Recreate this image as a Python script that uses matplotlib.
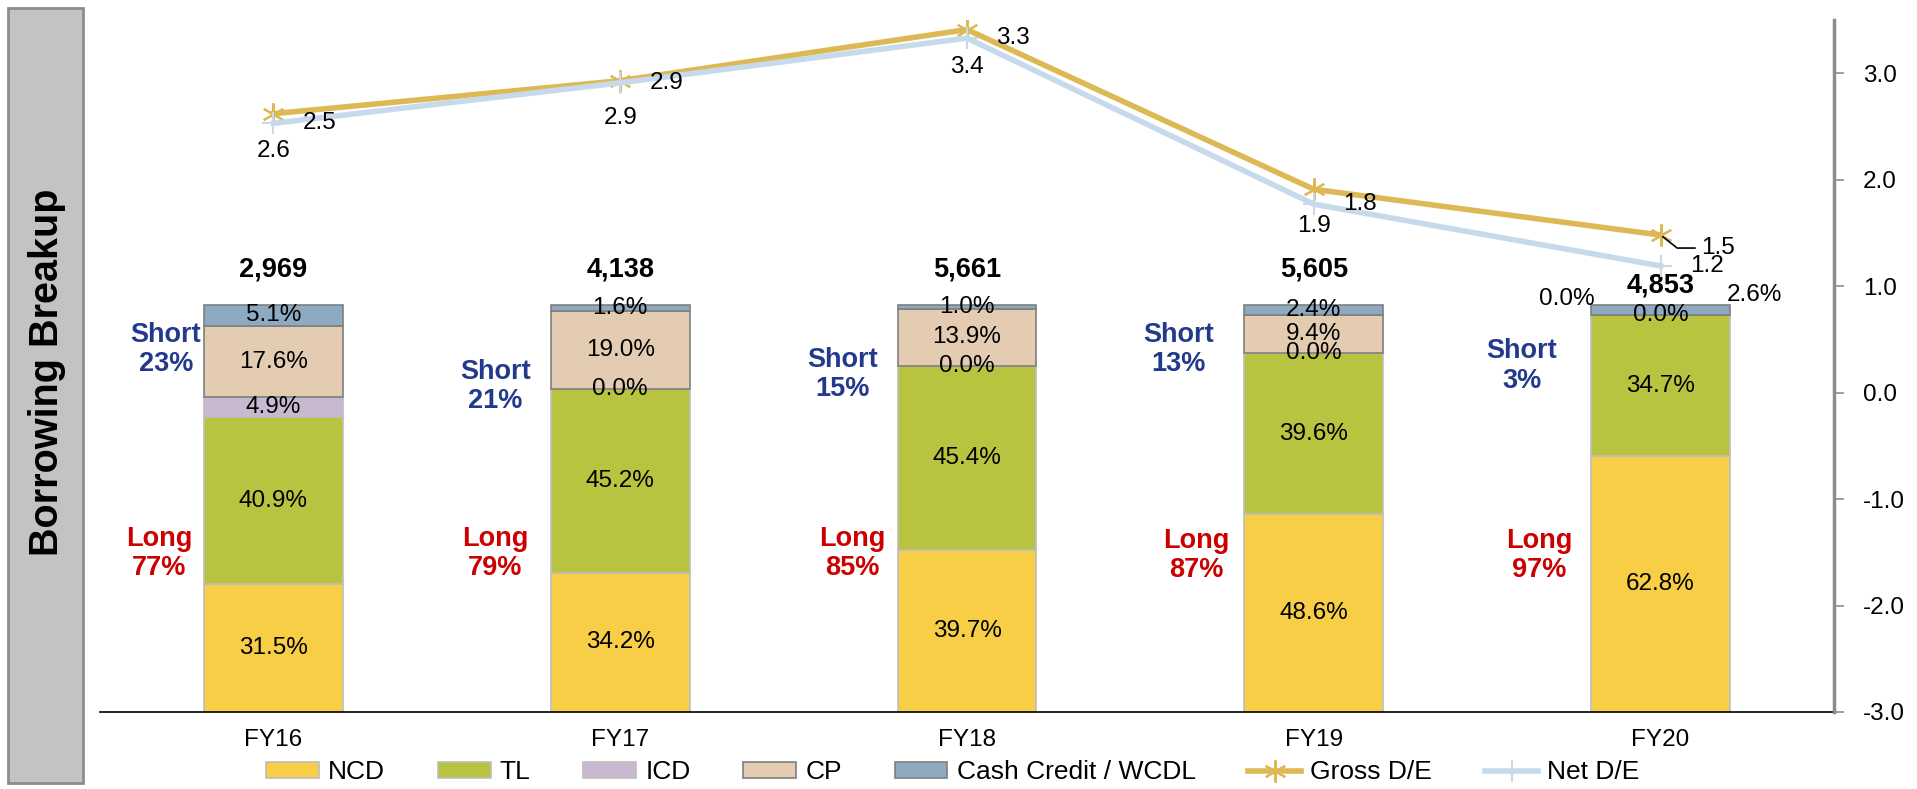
import numpy as np
import matplotlib
matplotlib.use("Agg")
import matplotlib.pyplot as plt
from matplotlib.patches import Rectangle

plt.rcParams["font.family"] = ["Liberation Sans", "DejaVu Sans"]
plt.rcParams["axes.unicode_minus"] = False

years = ["FY16", "FY17", "FY18", "FY19", "FY20"]
ncd = [31.5, 34.2, 39.7, 48.6, 62.8]
tl = [40.9, 45.2, 45.4, 39.6, 34.7]
icd = [4.9, 0.0, 0.0, 0.0, 0.0]
cp = [17.6, 19.0, 13.9, 9.4, 0.0]
cc = [5.1, 1.6, 1.0, 2.4, 2.6]
totals = ["2,969", "4,138", "5,661", "5,605", "4,853"]
gross_de = [2.62, 2.93, 3.41, 1.91, 1.48]
net_de = [2.53, 2.91, 3.33, 1.77, 1.19]
short_pct = [23, 21, 15, 13, 3]
long_pct = [77, 79, 85, 87, 97]

series = [
    ("NCD", ncd, "#F7CE46", "#BDBDBD"),
    ("TL", tl, "#B8C43F", "#BDBDBD"),
    ("ICD", icd, "#C8B9D1", "#BDBDBD"),
    ("CP", cp, "#E3CCB1", "#7F7F7F"),
    ("Cash Credit / WCDL", cc, "#8EAAC1", "#7F7F7F"),
]

# label tweaks (text positions only)
short_dx = [-0.31, -0.36, -0.36, -0.39, -0.40]
short_y = [89, 80, 83, 89, 85]
long_dx = [-0.33, -0.36, -0.33, -0.34, -0.35]
long_y = [39, 39, 39, 38.5, 38.5]
total_off = [35, 35, 35, 35, 19]
moved = {(4, "ICD"): (-0.27, 101.5), (4, "Cash Credit / WCDL"): (0.27, 102.5)}

fs = 17.5
fig = plt.figure(figsize=(19.17, 7.89), dpi=100)

# grey side box with title
fig.patches.append(Rectangle((8 / 1917, 6 / 789), 75 / 1917, 775 / 789,
                             transform=fig.transFigure, facecolor="#C3C3C3",
                             edgecolor="#8C8C8C", linewidth=2))
fig.text(47 / 1917, 1 - 372 / 789, "Borrowing Breakup", rotation=90, ha="center", va="center",
         fontsize=28.5, fontweight="bold")

ax = fig.add_axes([100 / 1917, 77 / 789, 1734 / 1917, 692 / 789])
x = np.arange(len(years))
width = 0.4
bottom = np.zeros(len(years))
for name, vals, color, ec in series:
    vals = np.array(vals)
    ax.bar(x, vals, width, bottom=bottom, color=color, edgecolor=ec, linewidth=1.2, label=name)
    for i, v in enumerate(vals):
        lx, ly = x[i], bottom[i] + v / 2
        if (i, name) in moved:
            dx, ly = moved[(i, name)]
            lx = x[i] + dx
        ax.text(lx, ly, f"{v:.1f}%", ha="center", va="center", fontsize=fs)
    bottom += vals

for i in range(len(years)):
    ax.annotate(totals[i], (x[i], bottom[i]), xytext=(0, total_off[i]), textcoords="offset pixels",
                ha="center", va="center", fontsize=19.5, fontweight="bold")
    ax.text(x[i] + short_dx[i], short_y[i], f"Short\n{short_pct[i]}%", ha="center", va="center",
            fontsize=19.5, fontweight="bold", color="#233A8C", linespacing=1.15)
    ax.text(x[i] + long_dx[i], long_y[i], f"Long\n{long_pct[i]}%", ha="center", va="center",
            fontsize=19.5, fontweight="bold", color="#CC0000", linespacing=1.15)

ax.set_xlim(-0.5, 4.5)
ax.set_ylim(0, 170)
ax.set_xticks(x)
ax.set_xticklabels(years, fontsize=fs)
ax.tick_params(axis="x", length=0, pad=12)
ax.set_yticks([])
for s in ["top", "left", "right"]:
    ax.spines[s].set_visible(False)
ax.spines["bottom"].set_linewidth(1.2)

ax2 = ax.twinx()
ax2.plot(x, gross_de, color="#DDB955", lw=4, marker=(6, 2, 0), ms=16, mew=1.5,
         mec="#DDB955", label="Gross D/E")
ax2.plot(x, net_de, color="#C6DAEC", lw=4, marker="+", ms=16, mew=1.5,
         mec="#C6DAEC", label="Net D/E")
for i in range(len(years)):
    if i < 4:
        ax2.annotate(f"{gross_de[i]:.1f}", (x[i], gross_de[i]), xytext=(0, -37),
                     textcoords="offset pixels", ha="center", va="center", fontsize=fs)
    else:
        ax2.annotate(f"{gross_de[i]:.1f}", (x[i], gross_de[i]), xytext=(57, -13),
                     textcoords="offset pixels", ha="center", va="center", fontsize=fs,
                     arrowprops=dict(arrowstyle="-", color="black", lw=1.2, shrinkA=2,
                                     shrinkB=2, relpos=(0, 0.5),
                                     connectionstyle="angle,angleA=0,angleB=-38,rad=0"))
    ax2.annotate(f"{net_de[i]:.1f}", (x[i], net_de[i]), xytext=(46, 0),
                 textcoords="offset pixels", ha="center", va="center", fontsize=fs)

ax2.set_ylim(-3, 3.5)
ax2.set_yticks(np.arange(-3, 3.1, 1))
ax2.set_yticklabels([f"{t:.1f}" for t in np.arange(-3, 3.1, 1)], fontsize=fs)
ax2.tick_params(axis="y", direction="out", length=7, width=1.2, color="#8C8C8C", pad=14)
for s in ["top", "left", "bottom"]:
    ax2.spines[s].set_visible(False)
ax2.spines["right"].set_color("#8C8C8C")
ax2.spines["right"].set_linewidth(2.5)

h1, l1 = ax.get_legend_handles_labels()
h2, l2 = ax2.get_legend_handles_labels()
fig.legend(h1 + h2, l1 + l2, loc="lower center", bbox_to_anchor=(0.497, -0.024), ncol=7,
           frameon=False, fontsize=19, handlelength=2.0, handleheight=0.55,
           handletextpad=0.35, columnspacing=2.0)

fig.savefig("out.png", dpi=100)
